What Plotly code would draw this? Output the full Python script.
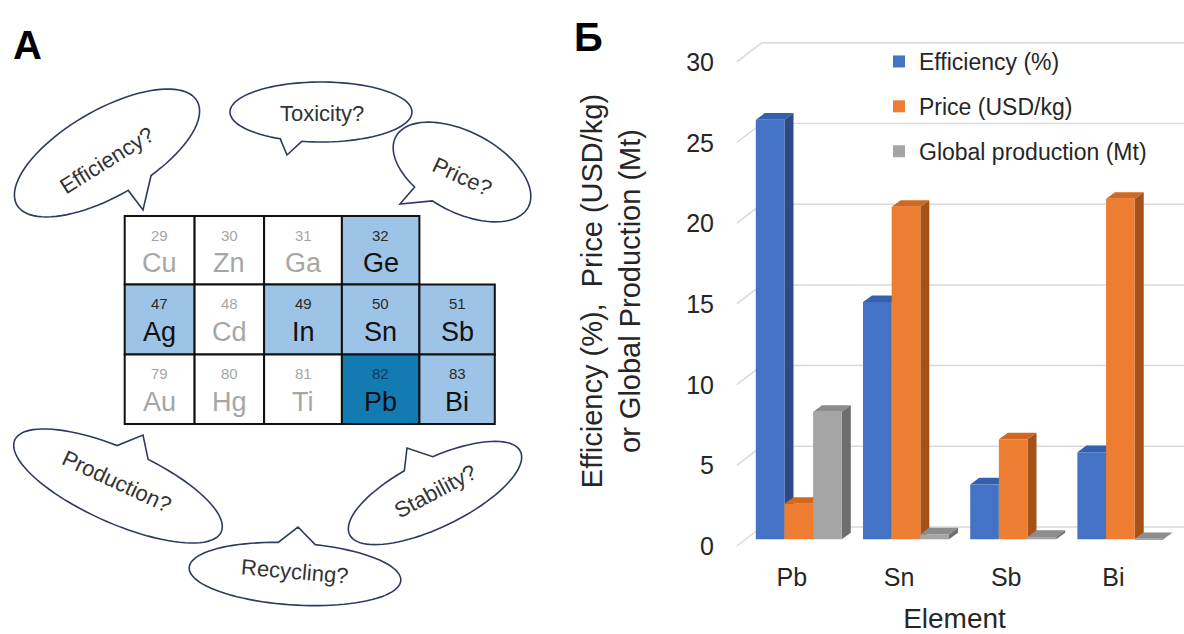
import math
import numpy as np
import plotly.graph_objects as go

# ---------------- data ----------------
elements = ["Pb", "Sn", "Sb", "Bi"]
efficiency = [26.0, 14.7, 3.4, 5.4]
price = [2.2, 20.6, 6.2, 21.1]
production = [7.9, 0.3, 0.15, 0.02]
series_names = ["Efficiency (%)", "Price (USD/kg)", "Global production (Mt)"]
y_ticks = [0, 5, 10, 15, 20, 25, 30]

table_symbols = [["Cu", "Zn", "Ga", "Ge"],
                 ["Ag", "Cd", "In", "Sn", "Sb"],
                 ["Au", "Hg", "Ti", "Pb", "Bi"]]
table_numbers = [[29, 30, 31, 32],
                 [47, 48, 49, 50, 51],
                 [79, 80, 81, 82, 83]]
table_level = [[0, 0, 0, 1],
               [1, 0, 1, 1, 1],
               [0, 0, 0, 2, 1]]
bubble_labels = ["Efficiency?", "Toxicity?", "Price?", "Production?", "Recycling?", "Stability?"]

# ---------------- styling / layout ----------------
W, H = 1184, 634
FONT = "Liberation Sans, Arial, sans-serif"
X0, X1, YT, YB = 725, 1184, 30, 552          # plot area in px
CX0, DX = 798.8, 107.2                       # first category centre, spacing (px)
Y0, PY = 539.3, 16.14                        # zero line of bar fronts, px per unit
xr = [(X0 - CX0) / DX, (X1 - CX0) / DX]
yr = [(Y0 - YB) / PY, (Y0 - YT) / PY]
BARGAP = 0.198
bw = (1 - BARGAP) / 3
ddx, ddy = 9 / DX, 6.6 / PY                  # bar depth
back_dx, back_dy = (761.7 - CX0) / DX, 12.3 / PY
floor_dx, floor_dy = (736.7 - CX0) / DX, -6.7 / PY

front_cols = ["#4472C4", "#ED7D31", "#A5A5A5"]
top_cols = ["#3560AE", "#D0681F", "#8C8C8C"]
side_cols = ["#2B4A86", "#A5521A", "#6E6E6E"]


def pxp(x):
    return (x - X0) / (X1 - X0)


def pyp(y):
    return (YB - y) / (YB - YT)


fig = go.Figure()
series = [efficiency, price, production]
xs = list(range(len(elements)))
for j, (name, vals) in enumerate(zip(series_names, series)):
    fig.add_trace(go.Bar(x=xs, y=vals, name=name, legendgroup=name,
                         marker=dict(color=front_cols[j], line=dict(width=0)),
                         hovertemplate="%{text}: %{y}<extra>" + name + "</extra>",
                         text=elements, textposition="none"))

shapes = []
# back-wall gridlines and floor ticks
for v in y_ticks:
    shapes.append(dict(type="line", xref="x", yref="y", layer="below",
                       x0=back_dx, x1=xr[1], y0=v + back_dy, y1=v + back_dy,
                       line=dict(color="#D9D9D9", width=1.5)))
    shapes.append(dict(type="line", xref="x", yref="y", layer="below",
                       x0=floor_dx, x1=back_dx, y0=v + floor_dy, y1=v + back_dy,
                       line=dict(color="#D9D9D9", width=1.5)))

# 3D faces of the bars (derived from data)
for i in xs:
    for j, vals in enumerate(series):
        v = vals[i]
        left = i - 1.5 * bw + j * bw
        right = left + bw
        top = (f"M {left},{v} L {right},{v} L {right + ddx},{v + ddy} "
               f"L {left + ddx},{v + ddy} Z")
        side = (f"M {right},0 L {right},{v} L {right + ddx},{v + ddy} "
                f"L {right + ddx},{ddy} Z")
        shapes.append(dict(type="path", xref="x", yref="y", layer="below", path=top,
                           fillcolor=top_cols[j], line=dict(width=0)))
        shapes.append(dict(type="path", xref="x", yref="y", layer="below", path=side,
                           fillcolor=side_cols[j], line=dict(width=0)))

annotations = []


def note(xpx, ypx, text, size, color, angle=0):
    annotations.append(dict(x=pxp(xpx), y=pyp(ypx), xref="paper", yref="paper",
                            xanchor="center", yanchor="middle", text=text,
                            showarrow=False, textangle=angle,
                            font=dict(family=FONT, size=size, color=color)))


# ---------------- left panel: periodic table ----------------
col_edges = [124.7, 194.6, 264.1, 341.9, 419.4, 494.8]
row_edges = [216.0, 284.6, 354.5, 423.9]
fills = ["#FFFFFF", "#9DC3E6", "#127BB2"]
for r, row in enumerate(table_symbols):
    for c, sym in enumerate(row):
        lvl = table_level[r][c]
        xa, xb = col_edges[c], col_edges[c + 1]
        ya, yb = row_edges[r], row_edges[r + 1]
        shapes.append(dict(type="rect", xref="paper", yref="paper", layer="above",
                           x0=pxp(xa), x1=pxp(xb), y0=pyp(yb), y1=pyp(ya),
                           fillcolor=fills[lvl], line=dict(color="#111111", width=2)))
        xc = (xa + xb) / 2
        numcol = "#A6A6A6" if lvl == 0 else ("#0D3A5C" if lvl == 2 else "#2A2A2A")
        symcol = "#A6A6A6" if lvl == 0 else "#111111"
        note(xc, ya + 19, str(table_numbers[r][c]), 15, numcol)
        note(xc, ya + 47, sym, 27, symcol)


# ---------------- left panel: speech bubbles ----------------
def bubble_path(cx, cy, a, b, ang, base1, base2, tip, n=90):
    th = math.radians(ang)

    def param(p):
        dx, dy = p[0] - cx, p[1] - cy
        lx = dx * math.cos(th) + dy * math.sin(th)
        ly = -dx * math.sin(th) + dy * math.cos(th)
        return math.atan2(ly / b, lx / a)

    def point(t):
        lx, ly = a * math.cos(t), b * math.sin(t)
        return (cx + lx * math.cos(th) - ly * math.sin(th),
                cy + lx * math.sin(th) + ly * math.cos(th))

    t1, t2 = param(base1), param(base2)
    d = (t2 - t1) % (2 * math.pi)
    if d > math.pi:
        t1, t2 = t2, t1
        d = 2 * math.pi - d
    ts = np.linspace(t1 + d, t1 + 2 * math.pi, n)
    pts = [point(t) for t in ts] + [tip]
    return "M " + " L ".join(f"{pxp(x):.5f},{pyp(y):.5f}" for x, y in pts) + " Z"


bubbles = [
    # centre, a, b, angle, base1, base2, tip, text pos, text angle
    ((107, 153), 104, 43, -30, (128, 190), (152, 176), (143, 210), (106.7, 160.7), -32),
    ((321, 112), 91, 30, 0, (280, 139), (302, 141), (287, 155), (321.7, 113.3), 0),
    ((462, 172), 75, 40, 28, (405, 190), (425, 208), (400, 204), (461.7, 176.7), 25),
    ((118, 486), 113, 37, 24, (117, 441), (153, 455), (143, 435), (116.7, 481.7), 25),
    ((295, 574), 106, 31, 3.5, (278, 542), (315, 545), (298, 527), (295, 571.7), 5),
    ((435, 493), 95, 34, -26, (406, 472), (433, 461), (407, 448), (435, 491.7), -28),
]
for lab, (c, a, b, ang, b1, b2, tip, tpos, tang) in zip(bubble_labels, bubbles):
    shapes.append(dict(type="path", xref="paper", yref="paper", layer="above",
                       path=bubble_path(c[0], c[1], a, b, ang, b1, b2, tip),
                       fillcolor="white", line=dict(color="#2E3B5E", width=1.6)))
    note(tpos[0], tpos[1], lab, 22, "#333333", tang)

# panel letters
note(27, 45, "<b>A</b>", 40, "black")
note(588, 37, "<b>Б</b>", 40, "black")

fig.update_layout(
    width=W, height=H, template="none",
    margin=dict(l=X0, r=W - X1, t=YT, b=H - YB, pad=0, autoexpand=False),
    paper_bgcolor="white", plot_bgcolor="white",
    barmode="group", bargap=BARGAP, bargroupgap=0,
    font=dict(family=FONT, color="#262626"),
    shapes=shapes, annotations=annotations,
    legend=dict(x=pxp(879), y=pyp(40), xanchor="left", yanchor="top",
                bgcolor="rgba(0,0,0,0)", font=dict(family=FONT, size=23, color="#262626"),
                tracegroupgap=12, itemwidth=30),
    xaxis=dict(range=xr, tickvals=xs, ticktext=elements, showgrid=False, zeroline=False,
               showline=False, ticks="", automargin=False, fixedrange=True,
               tickfont=dict(family=FONT, size=25, color="#262626"),
               ticklabelshift=-7, ticklabelstandoff=8,
               title=dict(text="Element", standoff=26,
                          font=dict(family=FONT, size=28, color="#262626"))),
    yaxis=dict(range=yr, tickvals=y_ticks, showgrid=False, zeroline=False,
               showline=False, ticks="", automargin=False, fixedrange=True,
               tickfont=dict(family=FONT, size=25, color="#262626"),
               ticklabelshift=7, ticklabelstandoff=10,
               title=dict(text="Efficiency (%),  Price (USD/kg)<br>or Global Production (Mt)",
                          standoff=37, font=dict(family=FONT, size=29, color="#262626"))),
)

fig.write_html("out.html")
